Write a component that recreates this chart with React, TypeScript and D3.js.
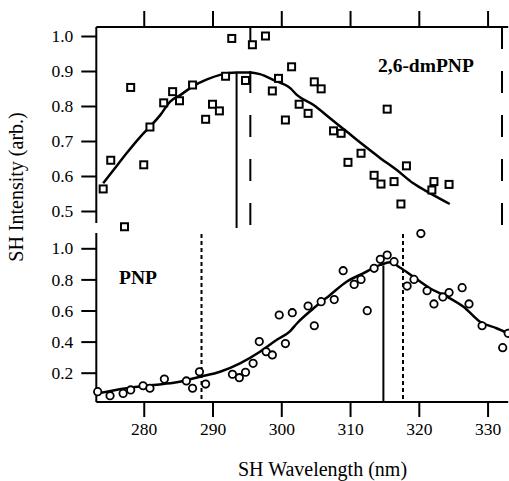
import React, { useRef, useEffect } from "react";
import * as d3 from "d3";

// 2,6-dmPNP (squares)
const dmWl = [274.1, 275.2, 277.2, 278.1, 280.0, 280.9, 282.9, 284.2, 285.2, 287.1, 289.0, 290.0, 291.0, 291.9, 292.8, 294.8, 295.8, 297.7, 298.7, 299.6, 300.6, 301.5, 302.6, 303.9, 304.8, 305.8, 307.6, 308.7, 309.7, 311.6, 313.5, 314.5, 315.4, 316.4, 317.4, 318.2, 321.9, 322.2, 324.4];
const dmInt = [0.563, 0.645, 0.455, 0.853, 0.632, 0.74, 0.809, 0.841, 0.815, 0.86, 0.762, 0.805, 0.786, 0.885, 0.993, 0.873, 0.975, 1.0, 0.843, 0.879, 0.76, 0.912, 0.805, 0.779, 0.869, 0.849, 0.729, 0.722, 0.639, 0.665, 0.602, 0.577, 0.791, 0.584, 0.52, 0.629, 0.56, 0.584, 0.576];
const dmFitWl = [274.1, 275.6, 277.5, 279.5, 280.9, 282.4, 283.8, 285.3, 287.2, 289.2, 291.1, 293.5, 295.5, 296.9, 298.9, 301.3, 302.3, 304.7, 307.1, 309.5, 311.9, 314.4, 316.8, 319.2, 321.6, 324.5];
const dmFitInt = [0.579, 0.617, 0.665, 0.712, 0.741, 0.774, 0.812, 0.831, 0.857, 0.876, 0.889, 0.896, 0.896, 0.891, 0.874, 0.851, 0.831, 0.803, 0.765, 0.727, 0.689, 0.651, 0.617, 0.579, 0.551, 0.52];

// PNP (circles)
const pnpWl = [273.3, 275.1, 277.0, 278.1, 279.9, 280.9, 283.0, 286.2, 287.1, 288.1, 289.0, 292.9, 293.9, 294.8, 295.9, 296.8, 297.8, 298.7, 299.7, 300.6, 301.6, 303.9, 304.8, 305.8, 307.7, 309.0, 310.6, 311.6, 312.5, 313.5, 314.4, 315.4, 316.4, 318.3, 319.3, 320.3, 321.2, 322.2, 323.5, 324.4, 326.3, 327.3, 329.2, 332.2, 333.0];
const pnpInt = [0.078, 0.052, 0.067, 0.089, 0.116, 0.1, 0.159, 0.147, 0.1, 0.206, 0.127, 0.19, 0.168, 0.203, 0.26, 0.4, 0.335, 0.314, 0.571, 0.387, 0.586, 0.629, 0.502, 0.657, 0.67, 0.856, 0.768, 0.8, 0.599, 0.871, 0.929, 0.957, 0.914, 0.757, 0.8, 1.095, 0.727, 0.642, 0.687, 0.715, 0.747, 0.642, 0.502, 0.361, 0.453];
const pnpFitWl = [273.3, 277.5, 281.4, 284.8, 288.2, 291.1, 294.0, 296.9, 299.3, 301.3, 302.3, 304.7, 307.1, 309.5, 311.9, 314.4, 315.8, 317.3, 319.2, 321.6, 324.1, 326.5, 328.9, 331.3, 333.3];
const pnpFitInt = [0.067, 0.1, 0.121, 0.138, 0.174, 0.206, 0.26, 0.335, 0.41, 0.468, 0.518, 0.614, 0.7, 0.785, 0.839, 0.893, 0.91, 0.875, 0.817, 0.743, 0.689, 0.624, 0.528, 0.486, 0.447];

const wlTicks = [280, 290, 300, 310, 320, 330];
const dmTicks = [0.5, 0.6, 0.7, 0.8, 0.9, 1.0];
const pnpTicks = [0.2, 0.4, 0.6, 0.8, 1.0];

// marker lines (wavelength)
const dmPeak = 293.5;
const dmDashed = [295.5, 332.1];
const pnpPeak = 314.85;
const pnpDotted = [288.4, 317.7];

const App = () => {
  const ref = useRef(null);

  useEffect(() => {
    const svg = d3.select(ref.current);
    svg.selectAll("*").remove();
    const font = "Liberation Serif";

    const x = d3.scaleLinear().domain([273.1, 333]).range([96.3, 508.2]);
    const yTop = d3.scaleLinear().domain([0.5, 1.0]).range([211, 36]);
    const yBot = d3.scaleLinear().domain([0, 1.0]).range([403.8, 248.3]);

    const topAxisY = 27;
    const topPanelBottom = 223;
    const botPanelTop = 233;
    const botAxisY = 402;

    // top axis
    const gTopX = svg.append("g").attr("transform", `translate(0,${topAxisY})`)
      .call(d3.axisTop(x).tickValues(wlTicks).tickSize(16).tickFormat(() => ""));
    gTopX.select(".domain").attr("d", `M${x.range()[0]},0H${x.range()[1]}`);

    // bottom axis
    const gBotX = svg.append("g").attr("transform", `translate(0,${botAxisY})`)
      .call(d3.axisBottom(x).tickValues(wlTicks).tickSize(15).tickPadding(6).tickFormat(d3.format("d")));
    gBotX.select(".domain").attr("d", `M${x.range()[0]},0H${x.range()[1]}`);

    // left axes
    const gTopY = svg.append("g").attr("transform", `translate(${x.range()[0]},0)`)
      .call(d3.axisLeft(yTop).tickValues(dmTicks).tickSize(15).tickPadding(8).tickFormat(d3.format(".1f")));
    gTopY.select(".domain").attr("d", `M0,${topAxisY}V${topPanelBottom}`);

    const gBotY = svg.append("g").attr("transform", `translate(${x.range()[0]},0)`)
      .call(d3.axisLeft(yBot).tickValues(pnpTicks).tickSize(15).tickPadding(8).tickFormat(d3.format(".1f")));
    gBotY.select(".domain").attr("d", `M0,${botPanelTop}V${botAxisY}`);

    svg.selectAll("g").attr("font-family", null);
    svg.selectAll(".domain").attr("stroke", "#000").attr("stroke-width", 2);
    svg.selectAll(".tick line").attr("stroke", "#000").attr("stroke-width", 2);
    svg.selectAll(".tick text").style("font-family", font).attr("font-size", 17.5).attr("fill", "#000");

    // vertical marker lines
    svg.append("line")
      .attr("x1", x(dmPeak)).attr("x2", x(dmPeak))
      .attr("y1", topPanelBottom + 5).attr("y2", yTop(0.896))
      .attr("stroke", "#000").attr("stroke-width", 2);
    dmDashed.forEach((w) => {
      svg.append("line")
        .attr("x1", x(w)).attr("x2", x(w))
        .attr("y1", topAxisY).attr("y2", topPanelBottom + 2)
        .attr("stroke", "#000").attr("stroke-width", 2)
        .attr("stroke-dasharray", "22,22");
    });
    svg.append("line")
      .attr("x1", x(pnpPeak)).attr("x2", x(pnpPeak))
      .attr("y1", botAxisY).attr("y2", yBot(0.89))
      .attr("stroke", "#000").attr("stroke-width", 2);
    pnpDotted.forEach((w) => {
      svg.append("line")
        .attr("x1", x(w)).attr("x2", x(w))
        .attr("y1", botPanelTop + 1).attr("y2", botAxisY - 3)
        .attr("stroke", "#000").attr("stroke-width", 2)
        .attr("stroke-dasharray", "4,3");
    });

    // fit curves
    const lineTop = d3.line().x((d) => x(d[0])).y((d) => yTop(d[1])).curve(d3.curveMonotoneX);
    const lineBot = d3.line().x((d) => x(d[0])).y((d) => yBot(d[1])).curve(d3.curveMonotoneX);
    svg.append("path").datum(d3.zip(dmFitWl, dmFitInt)).attr("d", lineTop)
      .attr("fill", "none").attr("stroke", "#000").attr("stroke-width", 2.5);
    svg.append("path").datum(d3.zip(pnpFitWl, pnpFitInt)).attr("d", lineBot)
      .attr("fill", "none").attr("stroke", "#000").attr("stroke-width", 2.5);

    // squares
    const sq = 7;
    svg.append("g").selectAll("rect").data(d3.zip(dmWl, dmInt)).join("rect")
      .attr("x", (d) => x(d[0]) - sq / 2).attr("y", (d) => yTop(d[1]) - sq / 2)
      .attr("width", sq).attr("height", sq)
      .attr("fill", "#fff").attr("stroke", "#000").attr("stroke-width", 2);

    // circles
    svg.append("g").selectAll("circle").data(d3.zip(pnpWl, pnpInt)).join("circle")
      .attr("cx", (d) => x(d[0])).attr("cy", (d) => yBot(d[1])).attr("r", 3.7)
      .attr("fill", "#fff").attr("stroke", "#000").attr("stroke-width", 1.8);

    // labels
    svg.append("text").attr("x", 378).attr("y", 71.5)
      .style("font-family", font).attr("font-size", 19.5).attr("font-weight", "bold")
      .text("2,6-dmPNP");
    svg.append("text").attr("x", 119).attr("y", 283.5)
      .style("font-family", font).attr("font-size", 19.5).attr("font-weight", "bold")
      .text("PNP");

    svg.append("text").attr("x", 322.5).attr("y", 476).attr("text-anchor", "middle")
      .style("font-family", font).attr("font-size", 20)
      .text("SH Wavelength (nm)");
    svg.append("text").attr("transform", "translate(23,187) rotate(-90)").attr("text-anchor", "middle")
      .style("font-family", font).attr("font-size", 20)
      .text("SH Intensity (arb.)");

    return () => {
      d3.select(ref.current).selectAll("*").remove();
    };
  }, []);

  return (
    <svg
      ref={ref}
      width={509}
      height={481}
      style={{ position: "absolute", left: 0, top: 0, background: "#fff", fontFamily: "Liberation Serif" }}
    ></svg>
  );
};

export default App;
